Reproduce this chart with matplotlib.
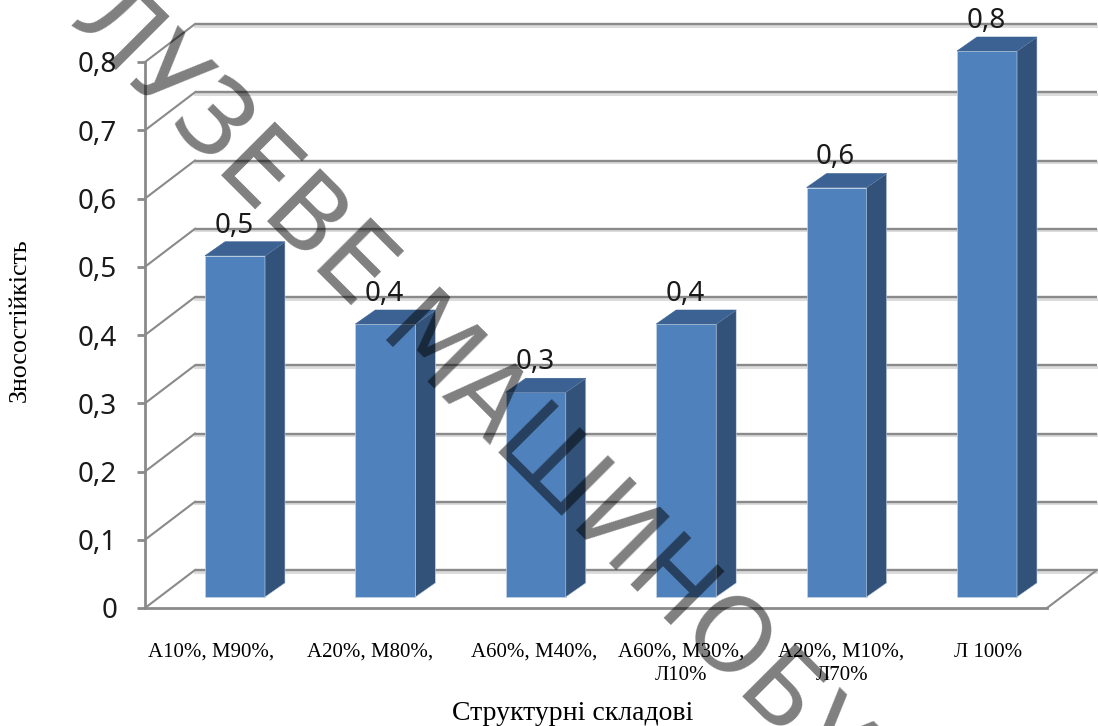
import numpy as np
import matplotlib
matplotlib.use("Agg")
import matplotlib.pyplot as plt
from matplotlib.patches import Polygon
from matplotlib.transforms import Affine2D

# Wear resistance by structural composition
categories = ["А10%, М90%,", "А20%, М80%,", "А60%, М40%,",
              "А60%, М30%,\nЛ10%", "А20%, М10%,\nЛ70%", "Л 100%"]
values = [0.5, 0.4, 0.3, 0.4, 0.6, 0.8]
value_labels = ["0,5", "0,4", "0,3", "0,4", "0,6", "0,8"]
y_ticks = [0, 0.1, 0.2, 0.3, 0.4, 0.5, 0.6, 0.7, 0.8]
y_tick_labels = ["0", "0,1", "0,2", "0,3", "0,4", "0,5", "0,6", "0,7", "0,8"]
label_shift_px = [-24, -15, -2, -5, 5, 1]

W, H = 1098, 726
L, R, T, B = 145, 1047, 62, 608        # front plane of the axes, pixels
WALL_DX, WALL_DY = 50, 38              # oblique depth of the chart box
BAR_DX, BAR_DY = 20, 14                # oblique depth of a column
BAR_LIFT = 11                          # columns stand mid-way across the floor
STEP = 150.4
BAR_W = 60 / STEP

GRID = "#8a8a8a"
HALO = "#dcdcdc"
FRONT = "#4f81bd"
SIDE = "#325279"
TOP = "#3b6292"
EDGE = "#c6d4e6"

fig = plt.figure(figsize=(W / 100, H / 100), dpi=100, facecolor="white")
ax = fig.add_axes([L / W, 1 - B / H, (R - L) / W, (B - T) / H])
x0 = -(235 - L) / STEP
ax.set_xlim(x0, x0 + (R - L) / STEP)
ax.set_ylim(0, 0.8)
ax.patch.set_visible(False)

for s in ("top", "right"):
    ax.spines[s].set_visible(False)
for s in ("left", "bottom"):
    ax.spines[s].set_color(GRID)
    ax.spines[s].set_linewidth(2.0)

xl = ax.get_xlim()
wall = ax.transData + Affine2D().translate(WALL_DX, WALL_DY)

# Back wall gridlines and the slanted side wall and floor edges
for v in y_ticks:
    ax.plot(xl, [v, v], transform=wall + Affine2D().translate(0, -1.5),
            color=HALO, lw=2.2, clip_on=False, zorder=1)
    ax.plot(xl, [v, v], transform=wall, color=GRID, lw=1.7,
            clip_on=False, zorder=1.1, solid_capstyle="butt")
    p0 = ax.transData.transform((xl[0], v))
    ax.plot([p0[0], p0[0] + WALL_DX], [p0[1], p0[1] + WALL_DY], transform=None,
            color=GRID, lw=1.5, clip_on=False, zorder=1.1)
p1 = ax.transData.transform((xl[1], 0))
ax.plot([p1[0], p1[0] + WALL_DX], [p1[1], p1[1] + WALL_DY], transform=None,
        color=GRID, lw=1.5, clip_on=False, zorder=1.1)

# Columns: front face, dark side and top
xs = np.arange(len(values))
lifted = ax.transData + Affine2D().translate(0, BAR_LIFT)
ax.bar(xs, values, width=BAR_W, color=FRONT, edgecolor=EDGE, linewidth=0.5,
       transform=lifted, clip_on=False, zorder=3)
for x, v in zip(xs, values):
    (xa, ya), (xb, yb) = lifted.transform([(x - BAR_W / 2, 0), (x + BAR_W / 2, v)])
    ax.add_patch(Polygon([(xb, ya), (xb + BAR_DX, ya + BAR_DY),
                          (xb + BAR_DX, yb + BAR_DY), (xb, yb)],
                         closed=True, transform=None, fc=SIDE, ec=EDGE, lw=0.4,
                         clip_on=False, zorder=3))
    ax.add_patch(Polygon([(xa, yb), (xa + BAR_DX, yb + BAR_DY),
                          (xb + BAR_DX, yb + BAR_DY), (xb, yb)],
                         closed=True, transform=None, fc=TOP, ec=TOP, lw=0.4,
                         clip_on=False, zorder=3))

for x, v, s in zip(xs, values, value_labels):
    ax.annotate(s, (x, v), xytext=(-1, 41), textcoords="offset pixels",
                ha="center", va="center", fontsize=20, family="Noto Sans",
                color="#1a1a1a", zorder=4, annotation_clip=False)

ax.set_yticks(y_ticks, labels=y_tick_labels, family="Noto Sans", fontsize=20,
              color="#1a1a1a")
ax.tick_params(axis="y", length=6, width=2, color=GRID, pad=14)
ax.set_xticks(xs + np.array(label_shift_px) / STEP, labels=categories,
              family="Liberation Serif", fontsize=15, linespacing=1.3)
ax.tick_params(axis="x", length=0, pad=25)

fig.text(20 / W, 1 - 320 / H, "Зносостійкість", rotation=90, ha="center", va="center",
         family="Liberation Serif", fontsize=18.7, color="black")
fig.text(573 / W, 1 - 714 / H, "Структурні складові", ha="center", va="center",
         family="Liberation Serif", fontsize=20, color="black")

# Diagonal stamp across the whole chart
fig.text(68 / W, 1 - 22 / H, "ЛУЗЕВЕ МАШИНОБУ", rotation=-45, rotation_mode="anchor",
         ha="left", va="baseline", family="DejaVu Sans", fontsize=74,
         color="black", alpha=0.5, zorder=10)

fig.savefig("out.png", dpi=100, facecolor="white")
